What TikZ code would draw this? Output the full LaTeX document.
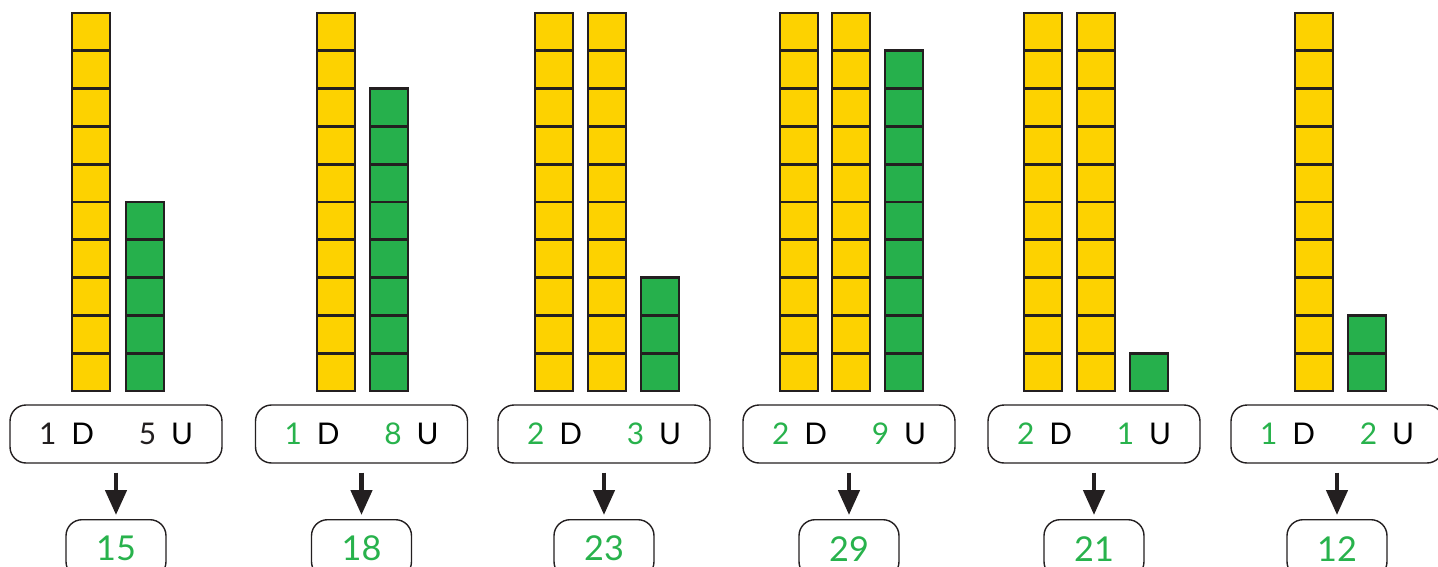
\documentclass[tikz,border=0pt]{standalone}
\usepackage{fontspec}
\setmainfont{Lato}
\usetikzlibrary{arrows.meta}

\definecolor{tenyellow}{RGB}{253,210,0}
\definecolor{unitgreen}{RGB}{38,176,76}
\definecolor{digitgreen}{RGB}{40,178,76}
\definecolor{inkgray}{RGB}{35,31,32}

\tikzset{
	cell/.style={draw=inkgray, line width=1.6pt},
	dubox/.style={draw=inkgray, line width=0.8pt, rounded corners=0.32cm, minimum width=4.24cm, minimum height=1.16cm, inner sep=0pt, font=\fontsize{17}{20}\selectfont},
	resbox/.style={draw=inkgray, line width=0.8pt, rounded corners=0.32cm, minimum width=2cm, minimum height=1.16cm, inner sep=0pt, anchor=north, text=digitgreen, font=\fontsize{19.5}{22}\selectfont},
	down/.style={-{Triangle[width=0.42cm,length=0.5cm]}, line width=2.6pt, inkgray, shorten <=0.18cm, shorten >=0.08cm}
}
% one rod of #2 cubes, left edge at #1
\newcommand\rod[3]{\foreach \k in {1,...,#2} {\filldraw[cell, fill=#3] (#1,391-37.8*\k) rectangle ++(38,37.8);}}

\begin{document}
\begin{tikzpicture}[x=0.02cm, y=-0.02cm]
	\useasboundingbox (0,0) rectangle (1438,566);
	% rods
	\rod{72}{10}{tenyellow} \rod{126}{5}{unitgreen}
	\rod{317}{10}{tenyellow} \rod{370}{8}{unitgreen}
	\rod{535}{10}{tenyellow} \rod{588}{10}{tenyellow} \rod{641}{3}{unitgreen}
	\rod{780}{10}{tenyellow} \rod{832}{10}{tenyellow} \rod{885}{9}{unitgreen}
	\rod{1024}{10}{tenyellow} \rod{1077}{10}{tenyellow} \rod{1130}{1}{unitgreen}
	\rod{1295}{10}{tenyellow} \rod{1348}{2}{unitgreen}
	% labels and numbers
	\foreach \i/\cx/\t/\u/\res/\tc in {1/116/1/5/15/inkgray, 2/361.5/1/8/18/digitgreen, 3/604/2/3/23/digitgreen, 4/849/2/9/29/digitgreen, 5/1094/2/1/21/digitgreen, 6/1337/1/2/12/digitgreen} {
		\node[dubox] (lab\i) at (\cx,434) {\textcolor{\tc}{\t}\hspace{0.5em}D\hspace{1.5em}\textcolor{\tc}{\u}\hspace{0.5em}U};
		\node[resbox] (res\i) at (\cx,519) {\res};
		\draw[down] (lab\i) -- (res\i);
	}
\end{tikzpicture}
\end{document}
